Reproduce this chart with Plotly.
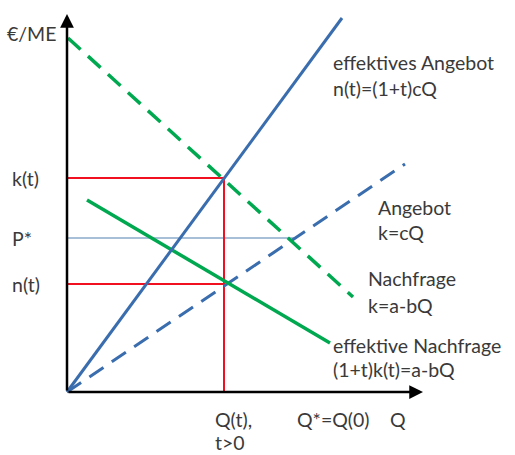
import plotly.graph_objects as go

# ---- data (Q on x, €/ME on y) ----
eff_supply_q = [0, 275]
eff_supply_p = [0, 374]
supply_q = [0, 338]
supply_p = [0, 228]
demand_q = [1, 286]
demand_p = [354, 95]
eff_demand_q = [20, 263]
eff_demand_p = [192, 49]

Q_t = 157
k_t = 214
n_t = 108
P_star = 154
P_star_end = 230
y_axis_top = 378
x_axis_end = 356

y_labels = ["k(t)", "P*", "n(t)"]
y_label_vals = [k_t, P_star, n_t]

x_labels = ["Q(t),", "t>0", "Q*=Q(0)", "Q"]
x_label_q = [146, 146, 228, 321]
x_label_p = [-27, -50, -27, -27]

curve_labels = ["effektives Angebot", "n(t)=(1+t)cQ", "Angebot", "k=cQ",
                "Nachfrage", "k=a-bQ", "effektive Nachfrage", "(1+t)k(t)=a-bQ"]
curve_label_q = [264, 264, 309, 309, 299, 299, 264, 264]
curve_label_p = [330, 304, 185, 160, 114, 87, 47, 23]

BLUE = "#3A6DAE"
GREEN = "#00A850"
RED = "#F01020"
LIGHTBLUE = "#A7C0D8"
TXT = "#3A3A3A"
FONT = "Lato"
FS = 19.5

fig = go.Figure()

# P* line
fig.add_trace(go.Scatter(x=[0, P_star_end], y=[P_star, P_star], mode="lines",
                         line=dict(color=LIGHTBLUE, width=2)))
# red guide lines
fig.add_trace(go.Scatter(x=[0, Q_t, Q_t], y=[k_t, k_t, 0], mode="lines",
                         line=dict(color=RED, width=2)))
fig.add_trace(go.Scatter(x=[0, Q_t], y=[n_t, n_t], mode="lines",
                         line=dict(color=RED, width=2)))
# curves
fig.add_trace(go.Scatter(x=supply_q, y=supply_p, mode="lines",
                         line=dict(color=BLUE, width=3, dash="17px,10px")))
fig.add_trace(go.Scatter(x=demand_q, y=demand_p, mode="lines",
                         line=dict(color=GREEN, width=3.5, dash="17px,10px")))
fig.add_trace(go.Scatter(x=eff_demand_q, y=eff_demand_p, mode="lines",
                         line=dict(color=GREEN, width=3.5)))
fig.add_trace(go.Scatter(x=eff_supply_q, y=eff_supply_p, mode="lines",
                         line=dict(color=BLUE, width=3)))

annotations = []
# axes with arrows
annotations.append(dict(x=0, y=y_axis_top, ax=0, ay=0, xref="x", yref="y",
                        axref="x", ayref="y", showarrow=True, arrowhead=2,
                        arrowsize=1.1, arrowwidth=2.5, arrowcolor="black", text=""))
annotations.append(dict(x=x_axis_end, y=0, ax=0, ay=0, xref="x", yref="y",
                        axref="x", ayref="y", showarrow=True, arrowhead=2,
                        arrowsize=1.1, arrowwidth=2.5, arrowcolor="black", text=""))

annotations.append(dict(x=-62, y=359, text="€/ME", showarrow=False, xanchor="left",
                        font=dict(family=FONT, size=FS, color=TXT)))
for t, v in zip(y_labels, y_label_vals):
    annotations.append(dict(x=-57, y=v, text=t, showarrow=False, xanchor="left",
                            font=dict(family=FONT, size=FS, color=TXT)))
for t, q, p in zip(x_labels, x_label_q, x_label_p):
    annotations.append(dict(x=q, y=p, text=t, showarrow=False, xanchor="left",
                            font=dict(family=FONT, size=FS, color=TXT)))
for t, q, p in zip(curve_labels, curve_label_q, curve_label_p):
    annotations.append(dict(x=q, y=p, text=t, showarrow=False, xanchor="left",
                            font=dict(family=FONT, size=FS, color=TXT)))

fig.update_layout(
    width=515, height=455,
    margin=dict(l=0, r=0, t=0, b=0),
    paper_bgcolor="white", plot_bgcolor="white",
    showlegend=False,
    xaxis=dict(range=[-67, 448], visible=False, fixedrange=True),
    yaxis=dict(range=[-63, 392], visible=False, fixedrange=True),
    annotations=annotations,
)

fig.write_html("out.html", config={"displayModeBar": False},
               post_script="document.body.style.margin='0';document.body.style.overflow='hidden';")
